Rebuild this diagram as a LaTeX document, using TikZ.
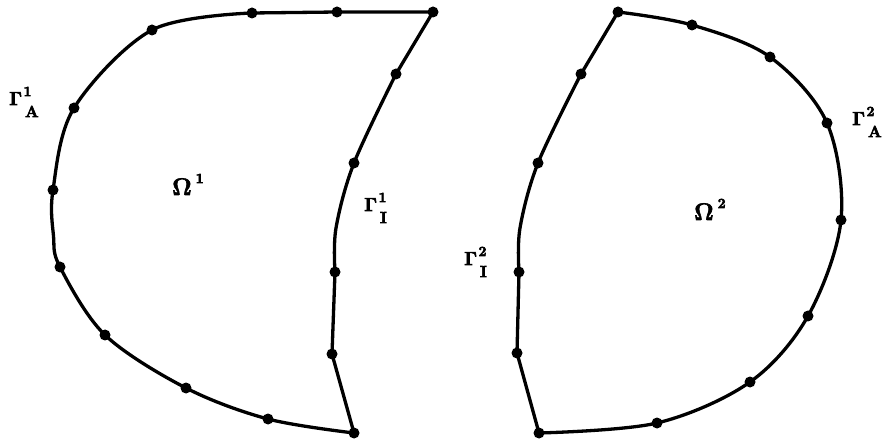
\RequirePackage{fix-cm}
\documentclass[tikz,border=0pt]{standalone}
\newcommand{\heavy}[1]{\special{pdf:literal direct 2 Tr 0.6 w}#1\special{pdf:literal direct 0 Tr}}
\newcommand{\mylab}[2]{\heavy{$\mathbf{\Gamma}$\kern1.5pt\rlap{\raisebox{9pt}{\fontsize{14}{16}\selectfont\bfseries #1}}\kern1.5pt\raisebox{-12pt}{\fontsize{16}{18}\selectfont\bfseries #2}}}
\newcommand{\myom}[1]{\heavy{$\mathbf{\Omega}$\kern4pt\raisebox{12pt}{\fontsize{14}{16}\selectfont\bfseries #1}}}
\tikzset{
  edge/.style={line width=3.3pt, line join=round, line cap=round},
  pt/.style={circle, fill=black, inner sep=0pt, minimum size=11pt},
  glabel/.style={anchor=base west, inner sep=0pt, font=\fontsize{19}{22}\selectfont\boldmath},
  olabel/.style={anchor=base west, inner sep=0pt, font=\fontsize{24}{28}\selectfont\boldmath}
}
\begin{document}
\begin{tikzpicture}[x=1pt,y=-1pt]
\useasboundingbox (0,0) rectangle (891,443);
% left domain points
\coordinate (a1) at (433,12);
\coordinate (a2) at (337,12);
\coordinate (a3) at (252,13);
\coordinate (a4) at (152,30);
\coordinate (a5) at (74,108);
\coordinate (a6) at (53,190);
\coordinate (a7) at (60,267);
\coordinate (a8) at (105,335);
\coordinate (a9) at (186,388);
\coordinate (a10) at (268,419);
\coordinate (a11) at (354,433);
\coordinate (a12) at (332,354);
\coordinate (a13) at (335,272);
\coordinate (a14) at (354,163);
\coordinate (a15) at (396,74);
% right domain points
\coordinate (b1) at (618,12);
\coordinate (b2) at (692,25);
\coordinate (b3) at (770,57);
\coordinate (b4) at (827,123);
\coordinate (b5) at (841,220);
\coordinate (b6) at (808,316);
\coordinate (b7) at (750,382);
\coordinate (b8) at (657,423);
\coordinate (b9) at (539,433);
\coordinate (b10) at (517,353);
\coordinate (b11) at (519,272);
\coordinate (b12) at (538,163);
\coordinate (b13) at (581,74);

% left boundary
\draw[edge] (a1) -- (a2) -- (a3)
  plot[smooth, tension=0.55] coordinates {(a3) (a4) (a5) (a6) (53.5,236) (a7) (a8) (a9) (a10) (a11)}
  -- (a12) -- (a13)
  plot[smooth, tension=0.55] coordinates {(a13) (336,228) (a14) (a15)}
  -- (a1);
% right boundary
\draw[edge]
  plot[smooth, tension=0.55] coordinates {(b1) (b2) (b3) (b4) (b5) (b6) (b7) (b8) (b9)}
  -- (b10) -- (b11)
  plot[smooth, tension=0.55] coordinates {(b11) (520,228) (b12) (b13)}
  -- (b1);

\foreach \p in {a1,a2,a3,a4,a5,a6,a7,a8,a9,a10,a11,a12,a13,a14,a15,
                b1,b2,b3,b4,b5,b6,b7,b8,b9,b10,b11,b12,b13}
  \node[pt] at (\p) {};

% labels
\node[glabel] (gA1) at (9,105) {\mylab{1}{A}};
\node[glabel] (gI1) at (364,211) {\mylab{1}{I}};
\node[glabel] (gI2) at (464,265) {\mylab{2}{I}};
\node[glabel] (gA2) at (852,125) {\mylab{2}{A}};
\node[olabel] (O1) at (172,195) {\myom{1}};
\node[olabel] (O2) at (694,220) {\myom{2}};
\end{tikzpicture}
\end{document}
